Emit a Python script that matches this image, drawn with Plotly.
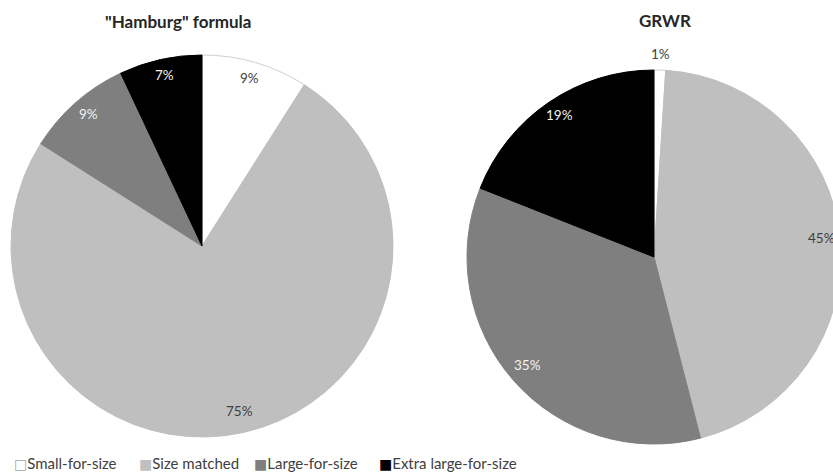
import math
import plotly.graph_objects as go

categories = ["Small-for-size", "Size matched", "Large-for-size", "Extra large-for-size"]
hamburg_values = [9, 75, 9, 7]
grwr_values = [1, 45, 35, 19]
titles = ['"Hamburg" formula', "GRWR"]

colors = ["#ffffff", "#bfbfbf", "#7f7f7f", "#000000"]
line_colors = ["#cfcfcf", "#bfbfbf", "#7f7f7f", "#000000"]
label_colors = ["#404040", "#404040", "#f2f2f2", "#f2f2f2"]
key_glyphs = ["□", "■", "■", "■"]
key_colors = ["#a6a6a6", "#bfbfbf", "#7f7f7f", "#000000"]

W, H = 845, 473
FONT = "Lato, 'Open Sans', sans-serif"

# pie domains in pixels (left, top, right, bottom)
boxes = [(10, 55, 394, 437), (467, 70, 841, 444)]
title_pos = [(178, 21), (665, 20)]
legend_x = [12, 137, 252, 377]
legend_y = 463


def dom(box):
    l, t, r, b = box
    return dict(x=[l / W, r / W], y=[1 - b / H, 1 - t / H])


fig = go.Figure()
annotations = []
for i, (vals, box) in enumerate(zip([hamburg_values, grwr_values], boxes)):
    fig.add_trace(go.Pie(
        labels=categories,
        values=vals,
        sort=False,
        direction="clockwise",
        rotation=0,
        textinfo="none",
        hoverinfo="label+percent",
        marker=dict(colors=colors, line=dict(color=line_colors, width=1)),
        domain=dom(box),
        showlegend=False,
    ))
    # label placement derived from the slice angles
    l, t, r, b = box
    cx, cy = (l + r) / 2, (t + b) / 2
    rad = min(r - l, b - t) / 2
    total = sum(vals)
    cum = 0
    for j, v in enumerate(vals):
        mid = (cum + v / 2) / total * 2 * math.pi
        cum += v
        pct = round(v / total * 100)
        if pct < 3:
            rr, col = rad * 1.07, "#404040"
        else:
            rr, col = rad * 0.9, label_colors[j]
        px = cx + rr * math.sin(mid)
        py = cy - rr * math.cos(mid) - 3
        annotations.append(dict(
            x=px / W, y=1 - py / H, xref="paper", yref="paper",
            text=f"{pct}%", showarrow=False,
            font=dict(family=FONT, size=13.5, color=col),
            xanchor="center", yanchor="middle",
        ))

for (tx, ty), txt in zip(title_pos, titles):
    annotations.append(dict(
        x=tx / W, y=1 - ty / H, xref="paper", yref="paper",
        text=f"<b>{txt}</b>", showarrow=False,
        font=dict(family=FONT, size=17, color="#262626"),
        xanchor="center", yanchor="middle",
    ))

# legend keys and names
for name, glyph, kc, lx in zip(categories, key_glyphs, key_colors, legend_x):
    annotations.append(dict(
        x=lx / W, y=1 - legend_y / H, xref="paper", yref="paper",
        text=f"<span style='color:{kc}; font-family:DejaVu Sans; font-size:14px'>{glyph}</span>{name}",
        showarrow=False,
        font=dict(family=FONT, size=15, color="#404040"),
        xanchor="left", yanchor="middle",
    ))

fig.update_layout(
    width=W, height=H,
    margin=dict(l=0, r=0, t=0, b=0),
    paper_bgcolor="white",
    plot_bgcolor="white",
    annotations=annotations,
    showlegend=False,
)

fig.write_html(
    "out.html",
    post_script="document.documentElement.style.overflow='hidden';document.body.style.overflow='hidden';document.body.style.margin='0';",
)
